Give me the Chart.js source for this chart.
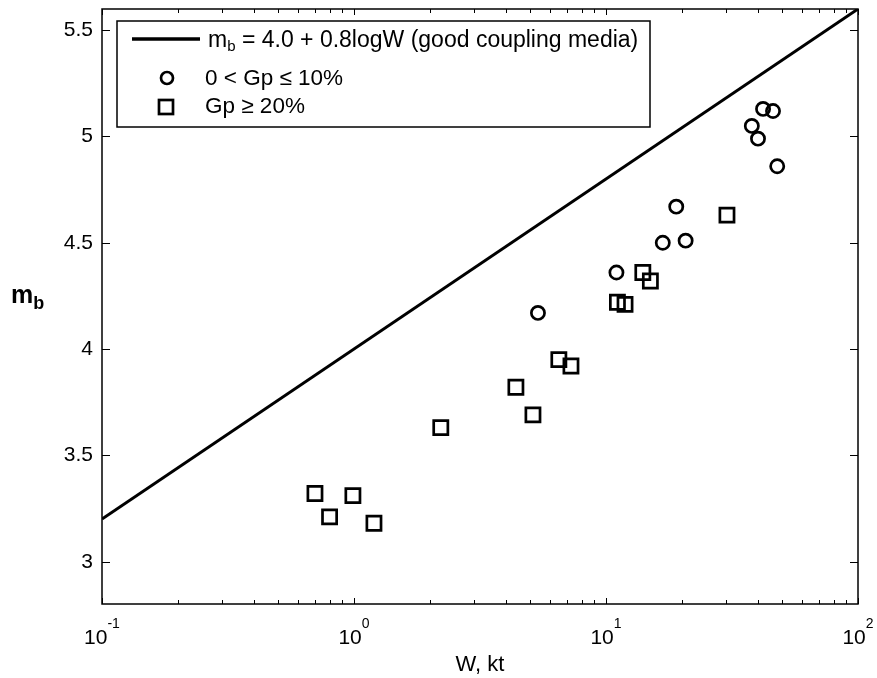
<!DOCTYPE html>
<html>
<head>
<meta charset="utf-8">
<script src="https://cdn.jsdelivr.net/npm/chart.js@4.4.0/dist/chart.umd.min.js"></script>
<style>
html, body { margin: 0; padding: 0; background: #fff; }
#wrap { width: 877px; height: 678px; }
</style>
</head>
<body>
<div id="wrap"><canvas id="mbChart"></canvas></div>
<script>
// good coupling media line
let lineW = [0.1, 100];
let lineMb = [3.2, 5.6];
// 0 < Gp <= 10%
let lowGpW = [42.0, 46.0, 37.9, 40.1, 47.8, 19.0, 16.8, 20.7, 11.0, 5.37];
let lowGpMb = [5.13, 5.12, 5.05, 4.99, 4.86, 4.67, 4.50, 4.51, 4.36, 4.17];
// Gp >= 20%
let highGpW = [30.2, 14.0, 15.0, 11.1, 11.9, 6.5, 7.26, 4.39, 5.13, 2.21, 0.70, 0.99, 0.80, 1.20];
let highGpMb = [4.63, 4.36, 4.32, 4.22, 4.21, 3.95, 3.92, 3.82, 3.69, 3.63, 3.32, 3.31, 3.21, 3.18];
let yTicks = [3, 3.5, 4, 4.5, 5, 5.5];
let xTickExp = [-1, 0, 1, 2];

function toXY(xs, ys) {
	return xs.map(function (x, i) { return { x: x, y: ys[i] }; });
}

const FONT = '"Liberation Sans", Arial, sans-serif';

// frame, inward ticks, tick labels, y title, legend box
const matlabLook = {
	id: 'matlabLook',
	afterDraw: function (chart) {
		const c = chart.ctx;
		const a = chart.chartArea;
		const sx = chart.scales.x, sy = chart.scales.y;
		c.save();
		c.strokeStyle = '#000';
		c.lineWidth = 1.5;
		c.strokeRect(a.left, a.top, a.right - a.left, a.bottom - a.top);

		// x ticks, top and bottom
		c.lineWidth = 1;
		for (let e = -1; e <= 2; e++) {
			for (let m = 1; m <= 9; m++) {
				if (e === 2 && m > 1) break;
				const px = Math.round(sx.getPixelForValue(m * Math.pow(10, e))) + 0.5;
				const len = m === 1 ? 6 : 4;
				c.beginPath();
				c.moveTo(px, a.bottom); c.lineTo(px, a.bottom - len);
				c.moveTo(px, a.top); c.lineTo(px, a.top + len);
				c.stroke();
			}
		}
		// y ticks, left and right, with labels
		c.fillStyle = '#000';
		c.font = '21px ' + FONT;
		c.textAlign = 'right';
		c.textBaseline = 'middle';
		yTicks.forEach(function (v) {
			const py = Math.round(sy.getPixelForValue(v)) + 0.5;
			c.beginPath();
			c.moveTo(a.left, py); c.lineTo(a.left + 8, py);
			c.moveTo(a.right, py); c.lineTo(a.right - 8, py);
			c.stroke();
			c.fillText(String(v), a.left - 9, py);
		});

		// x tick labels 10^n
		c.textBaseline = 'alphabetic';
		c.textAlign = 'left';
		xTickExp.forEach(function (e) {
			const px = sx.getPixelForValue(Math.pow(10, e));
			c.font = '21px ' + FONT;
			const wb = c.measureText('10').width;
			c.font = '14px ' + FONT;
			const we = c.measureText(String(e)).width;
			const x0 = px - (wb + we) / 2;
			c.font = '21px ' + FONT;
			c.fillText('10', x0, a.bottom + 40);
			c.font = '14px ' + FONT;
			c.fillText(String(e), x0 + wb, a.bottom + 24);
		});

		// y title m_b
		c.font = 'bold 25px ' + FONT;
		c.fillText('m', 11, 303);
		const wm = c.measureText('m').width;
		c.font = 'bold 18px ' + FONT;
		c.fillText('b', 11 + wm, 309);

		// legend
		const lx = a.left + 15, ly = a.top + 12, lw = 533, lh = 106;
		c.fillStyle = '#fff';
		c.fillRect(lx, ly, lw, lh);
		c.lineWidth = 1.5;
		c.strokeRect(lx, ly, lw, lh);
		c.lineWidth = 3.5;
		c.beginPath();
		c.moveTo(lx + 15, ly + 18); c.lineTo(lx + 83, ly + 18);
		c.stroke();
		c.fillStyle = '#000';
		c.font = '23px ' + FONT;
		c.fillText('m', lx + 91, ly + 26);
		let wx = lx + 91 + c.measureText('m').width;
		c.font = '15px ' + FONT;
		c.fillText('b', wx, ly + 30);
		wx += c.measureText('b').width;
		c.font = '23px ' + FONT;
		c.fillText(' = 4.0 + 0.8logW (good coupling media)', wx, ly + 26);

		c.font = '22.5px ' + FONT;
		c.lineWidth = 2.7;
		c.beginPath();
		c.arc(lx + 50, ly + 57, 6, 0, Math.PI * 2);
		c.stroke();
		c.fillText('0 < Gp \u2264 10%', lx + 88, ly + 64);
		c.strokeRect(lx + 42, ly + 79, 14, 14);
		c.fillText('Gp \u2265 20%', lx + 88, ly + 92);
		c.restore();
	}
};

var ctx = document.getElementById('mbChart').getContext('2d');
var mbChart = new Chart(ctx, {
	type: 'scatter',
	data: {
		datasets: [{
			label: 'mb = 4.0 + 0.8logW (good coupling media)',
			data: toXY(lineW, lineMb),
			showLine: true,
			borderColor: '#000',
			borderWidth: 3,
			pointRadius: 0
		}, {
			label: '0 < Gp \u2264 10%',
			data: toXY(lowGpW, lowGpMb),
			pointStyle: 'circle',
			pointRadius: 6.6,
			borderWidth: 2.7,
			borderColor: '#000',
			backgroundColor: 'rgba(0,0,0,0)'
		}, {
			label: 'Gp \u2265 20%',
			data: toXY(highGpW, highGpMb),
			pointStyle: 'rect',
			pointRadius: 10,
			borderWidth: 2.7,
			borderColor: '#000',
			backgroundColor: 'rgba(0,0,0,0)'
		}]
	},
	options: {
		responsive: true,
		maintainAspectRatio: false,
		animation: false,
		layout: { autoPadding: false, padding: { left: 42, right: 19, top: 9, bottom: 0 } },
		plugins: {
			legend: { display: false },
			tooltip: { enabled: false }
		},
		scales: {
			x: {
				type: 'logarithmic',
				min: 0.1,
				max: 100,
				grid: { display: false, drawTicks: false },
				border: { display: false },
				ticks: { display: false },
				title: {
					display: true,
					text: 'W, kt',
					color: '#000',
					font: { size: 22, family: FONT },
					padding: { top: 0, bottom: 0 }
				},
				afterFit: function (s) { s.height = 74; }
			},
			y: {
				min: 2.8,
				max: 5.6,
				grid: { display: false, drawTicks: false },
				border: { display: false },
				ticks: { display: false },
				afterFit: function (s) { s.width = 60; }
			}
		}
	},
	plugins: [matlabLook]
});

function resizeChart() {
	mbChart.resize();
}

window.addEventListener('resize', resizeChart);
</script>
</body>
</html>
